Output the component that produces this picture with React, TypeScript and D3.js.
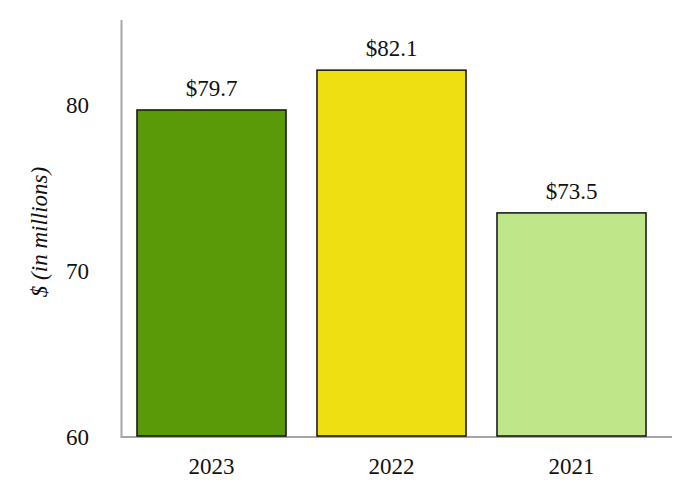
import React from 'react';
import * as d3 from 'd3';

const years = ['2023', '2022', '2021'];
const values = [79.7, 82.1, 73.5];
const barColors = ['#5a9908', '#eddf12', '#bfe688'];
const yTicks = [60, 70, 80];

const W = 682;
const H = 500;
const FONT = 'Liberation Serif, Times New Roman, serif';

const App: React.FC = () => {
  const x = d3.scaleBand<string>()
    .domain(years)
    .range([121.5, 661.5])
    .paddingInner(0.172)
    .paddingOuter(0.086);

  const y = d3.scaleLinear()
    .domain([60, 85])
    .range([437, 22]);

  const axisLeft = 121.5;
  const axisRight = 672;
  const txt = { fontFamily: FONT, fill: '#111' };

  return (
    <svg width={W} height={H} style={{ position: 'absolute', left: 0, top: 0, background: '#fff' }}>
      {/* axes */}
      <line x1={axisLeft} x2={axisLeft} y1={20} y2={y(60)} stroke="#a6a6a6" strokeWidth={2} />
      <line x1={axisLeft - 1} x2={axisRight} y1={y(60)} y2={y(60)} stroke="#a6a6a6" strokeWidth={2} />

      {/* y tick labels */}
      {yTicks.map(t => (
        <text key={t} x={89} y={y(t)} dy="0.35em" textAnchor="end"
          style={{ ...txt, fontSize: 23 }}>{t}</text>
      ))}

      {/* y axis title */}
      <text transform={`translate(47,232) rotate(-90)`} textAnchor="middle"
        style={{ ...txt, fontSize: 23, fontStyle: 'italic' }}>$ (in millions)</text>

      {/* bars */}
      {years.map((yr, i) => (
        <g key={yr}>
          <rect x={x(yr)!} y={y(values[i])} width={x.bandwidth()} height={y(60) - y(values[i]) - 1}
            fill={barColors[i]} stroke="#111" strokeWidth={1.5} />
          <text x={x(yr)! + x.bandwidth() / 2} y={y(values[i]) - 14} textAnchor="middle"
            style={{ ...txt, fontSize: 23 }}>{`$${values[i].toFixed(1)}`}</text>
          <text x={x(yr)! + x.bandwidth() / 2} y={474} textAnchor="middle"
            style={{ ...txt, fontSize: 23 }}>{yr}</text>
        </g>
      ))}
    </svg>
  );
};

export default App;
